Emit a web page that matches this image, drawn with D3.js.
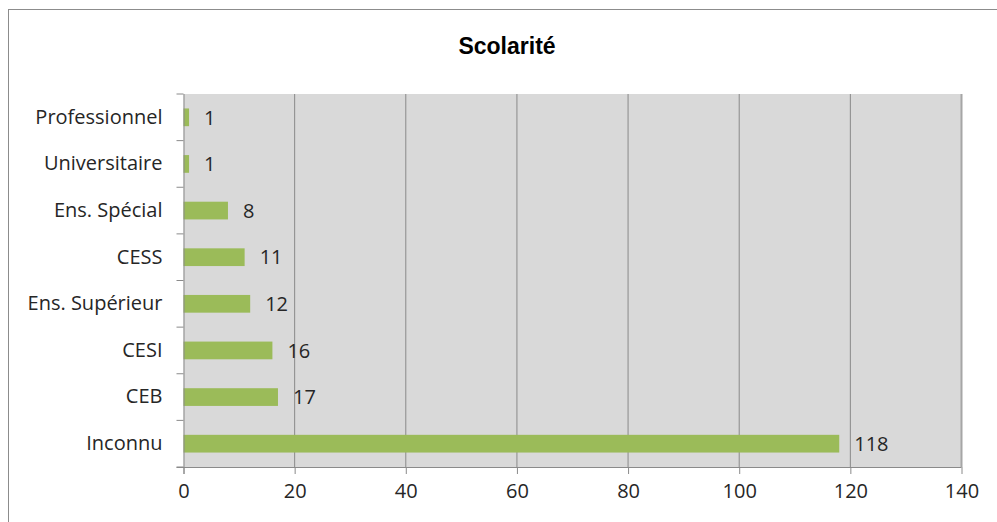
<!DOCTYPE html>
<html><head><meta charset="utf-8">
<script src="https://cdn.jsdelivr.net/npm/d3@7"></script>
<style>html,body{margin:0;padding:0;background:#fff;}</style>
</head><body>
<svg id="c" width="997" height="522"></svg>
<script>
const categories = ["Professionnel","Universitaire","Ens. Spécial","CESS","Ens. Supérieur","CESI","CEB","Inconnu"];
const values = [1,1,8,11,12,16,17,118];
const xTicks = [0,20,40,60,80,100,120,140];
const title = "Scolarité";

const svg = d3.select("#c");
const W = 997, H = 522;
const m = {left:183.5, top:94, right:961.5, bottom:467};
const font = "'Open Sans', sans-serif";
const txt = "#262626";

svg.append("rect").attr("x",8.5).attr("y",9.5).attr("width",W+10).attr("height",H+10)
  .attr("fill","#fff").attr("stroke","#8c8c8c").attr("stroke-width",1);

const x = d3.scaleLinear().domain([0,140]).range([m.left,m.right]);
const y = d3.scaleBand().domain(categories).range([m.top,m.bottom]).paddingInner(0.62).paddingOuter(0.31);

svg.append("rect").attr("x",m.left).attr("y",m.top).attr("width",m.right-m.left).attr("height",m.bottom-m.top).attr("fill","#d9d9d9");

// gridlines
svg.append("g").selectAll("line").data(xTicks.slice(1,-1)).join("line")
  .attr("x1",d=>x(d)).attr("x2",d=>x(d)).attr("y1",m.top).attr("y2",m.bottom)
  .attr("stroke","#8a8a8a").attr("stroke-width",1);
svg.append("line").attr("x1",x(140)).attr("x2",x(140)).attr("y1",m.top).attr("y2",m.bottom)
  .attr("stroke","#a6a6a6").attr("stroke-width",2);

// bars
svg.append("g").selectAll("rect").data(values).join("rect")
  .attr("x",x(0)).attr("y",(d,i)=>y(categories[i])).attr("width",d=>x(d)-x(0)).attr("height",y.bandwidth())
  .attr("fill","#9bbb59");

// data labels
svg.append("g").selectAll("text").data(values).join("text")
  .attr("x",d=>x(d)+15).attr("y",(d,i)=>y(categories[i])+y.bandwidth()/2).attr("dy","0.36em")
  .attr("font-family",font).attr("font-size",20).attr("fill",txt).text(d=>d);

// x axis
const xAxis = d3.axisBottom(x).tickValues(xTicks).tickSize(7).tickPadding(10).tickFormat(d3.format("d"));
const gx = svg.append("g").attr("transform",`translate(0,${m.bottom})`).call(xAxis);
gx.select(".domain").attr("stroke","#8a8a8a").attr("d",`M${m.left-7},0.5H${m.right}`);
gx.selectAll(".tick line").attr("stroke","#8a8a8a");
gx.selectAll("text").attr("font-family",font).attr("font-size",20).attr("fill",txt);

// y axis
const yAxis = d3.axisLeft(y).tickSize(0).tickPadding(21);
const gy = svg.append("g").attr("transform",`translate(${m.left},0)`).call(yAxis);
gy.select(".domain").attr("stroke","#8a8a8a").attr("d",`M0.5,${m.top}V${m.bottom+7}`);
gy.selectAll("text").attr("font-family",font).attr("font-size",20).attr("fill",txt);
const step = y.step();
const bounds = d3.range(categories.length+1).map(i=>m.top + i*(m.bottom-m.top)/categories.length);
gy.append("g").selectAll("line").data(bounds).join("line")
  .attr("x1",-7).attr("x2",0).attr("y1",d=>d).attr("y2",d=>d).attr("stroke","#8a8a8a");

svg.append("text").attr("x",507).attr("y",54).attr("text-anchor","middle")
  .attr("font-family","'Liberation Sans', Arial, sans-serif").attr("font-weight","bold").attr("font-size",23)
  .attr("fill","#000").text(title);
</script>
</body></html>
